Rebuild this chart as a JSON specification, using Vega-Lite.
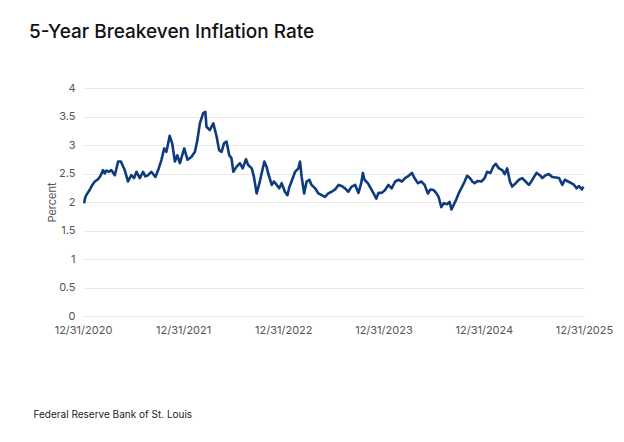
{
  "$schema": "https://vega.github.io/schema/vega-lite/v6.json",
  "width": 501,
  "height": 228,
  "autosize": {"type": "none"},
  "padding": {"left": 83, "top": 88, "right": 40, "bottom": 126},
  "background": "white",
  "config": {"view": {"stroke": null}, "font": "Inter"},
  "title": {
    "text": "5-Year Breakeven Inflation Rate",
    "anchor": "start",
    "frame": "group",
    "dx": -54,
    "offset": 25,
    "baseline": "alphabetic",
    "fontSize": 19,
    "fontWeight": 500,
    "color": "#111111",
    "font": "Inter"
  },
  "data": {
    "values": [
      {"date": "2021/01/04", "value": 1.98},
      {"date": "2021/01/08", "value": 2.08},
      {"date": "2021/01/12", "value": 2.12},
      {"date": "2021/01/24", "value": 2.21},
      {"date": "2021/02/03", "value": 2.3},
      {"date": "2021/02/12", "value": 2.36},
      {"date": "2021/02/24", "value": 2.4},
      {"date": "2021/03/05", "value": 2.46},
      {"date": "2021/03/14", "value": 2.56},
      {"date": "2021/03/20", "value": 2.5},
      {"date": "2021/03/26", "value": 2.55},
      {"date": "2021/04/05", "value": 2.53},
      {"date": "2021/04/13", "value": 2.56},
      {"date": "2021/04/26", "value": 2.47},
      {"date": "2021/05/08", "value": 2.71},
      {"date": "2021/05/18", "value": 2.71},
      {"date": "2021/06/01", "value": 2.56},
      {"date": "2021/06/13", "value": 2.36},
      {"date": "2021/06/25", "value": 2.47},
      {"date": "2021/07/05", "value": 2.42},
      {"date": "2021/07/14", "value": 2.53},
      {"date": "2021/07/26", "value": 2.42},
      {"date": "2021/08/07", "value": 2.53},
      {"date": "2021/08/15", "value": 2.45},
      {"date": "2021/08/25", "value": 2.47},
      {"date": "2021/09/06", "value": 2.53},
      {"date": "2021/09/21", "value": 2.44},
      {"date": "2021/10/01", "value": 2.56},
      {"date": "2021/10/13", "value": 2.74},
      {"date": "2021/10/23", "value": 2.94},
      {"date": "2021/10/31", "value": 2.88},
      {"date": "2021/11/12", "value": 3.16},
      {"date": "2021/11/21", "value": 3.03},
      {"date": "2021/12/01", "value": 2.71},
      {"date": "2021/12/10", "value": 2.82},
      {"date": "2021/12/19", "value": 2.68},
      {"date": "2022/01/04", "value": 2.94},
      {"date": "2022/01/16", "value": 2.74},
      {"date": "2022/01/30", "value": 2.79},
      {"date": "2022/02/12", "value": 2.88},
      {"date": "2022/02/21", "value": 3.09},
      {"date": "2022/03/02", "value": 3.38},
      {"date": "2022/03/14", "value": 3.56},
      {"date": "2022/03/22", "value": 3.58},
      {"date": "2022/03/26", "value": 3.32},
      {"date": "2022/04/01", "value": 3.29},
      {"date": "2022/04/07", "value": 3.26},
      {"date": "2022/04/20", "value": 3.38},
      {"date": "2022/05/02", "value": 3.15},
      {"date": "2022/05/11", "value": 2.91},
      {"date": "2022/05/20", "value": 2.88},
      {"date": "2022/05/29", "value": 3.03},
      {"date": "2022/06/07", "value": 3.06},
      {"date": "2022/06/17", "value": 2.82},
      {"date": "2022/06/25", "value": 2.77},
      {"date": "2022/07/02", "value": 2.53},
      {"date": "2022/07/14", "value": 2.62},
      {"date": "2022/07/26", "value": 2.68},
      {"date": "2022/08/05", "value": 2.59},
      {"date": "2022/08/17", "value": 2.75},
      {"date": "2022/08/25", "value": 2.65},
      {"date": "2022/09/07", "value": 2.59},
      {"date": "2022/09/15", "value": 2.44},
      {"date": "2022/09/25", "value": 2.15},
      {"date": "2022/10/05", "value": 2.33},
      {"date": "2022/10/13", "value": 2.5},
      {"date": "2022/10/23", "value": 2.71},
      {"date": "2022/10/31", "value": 2.62},
      {"date": "2022/11/06", "value": 2.5},
      {"date": "2022/11/19", "value": 2.3},
      {"date": "2022/11/27", "value": 2.36},
      {"date": "2022/12/07", "value": 2.3},
      {"date": "2022/12/16", "value": 2.24},
      {"date": "2022/12/25", "value": 2.33},
      {"date": "2023/01/06", "value": 2.18},
      {"date": "2023/01/15", "value": 2.12},
      {"date": "2023/01/22", "value": 2.26},
      {"date": "2023/01/30", "value": 2.36},
      {"date": "2023/02/12", "value": 2.53},
      {"date": "2023/02/24", "value": 2.59},
      {"date": "2023/03/02", "value": 2.71},
      {"date": "2023/03/08", "value": 2.44},
      {"date": "2023/03/17", "value": 2.15},
      {"date": "2023/03/26", "value": 2.36},
      {"date": "2023/04/05", "value": 2.39},
      {"date": "2023/04/13", "value": 2.3},
      {"date": "2023/04/26", "value": 2.24},
      {"date": "2023/05/08", "value": 2.15},
      {"date": "2023/05/20", "value": 2.12},
      {"date": "2023/06/01", "value": 2.09},
      {"date": "2023/06/13", "value": 2.15},
      {"date": "2023/06/25", "value": 2.18},
      {"date": "2023/07/08", "value": 2.22},
      {"date": "2023/07/20", "value": 2.3},
      {"date": "2023/08/01", "value": 2.28},
      {"date": "2023/08/13", "value": 2.24},
      {"date": "2023/08/25", "value": 2.18},
      {"date": "2023/09/06", "value": 2.27},
      {"date": "2023/09/19", "value": 2.3},
      {"date": "2023/10/01", "value": 2.16},
      {"date": "2023/10/11", "value": 2.33},
      {"date": "2023/10/17", "value": 2.51},
      {"date": "2023/10/23", "value": 2.39},
      {"date": "2023/11/04", "value": 2.33},
      {"date": "2023/11/17", "value": 2.22},
      {"date": "2023/11/25", "value": 2.15},
      {"date": "2023/12/05", "value": 2.06},
      {"date": "2023/12/13", "value": 2.16},
      {"date": "2023/12/25", "value": 2.16},
      {"date": "2024/01/06", "value": 2.21},
      {"date": "2024/01/18", "value": 2.3},
      {"date": "2024/01/30", "value": 2.24},
      {"date": "2024/02/12", "value": 2.36},
      {"date": "2024/02/24", "value": 2.39},
      {"date": "2024/03/07", "value": 2.36},
      {"date": "2024/03/19", "value": 2.42},
      {"date": "2024/04/01", "value": 2.46},
      {"date": "2024/04/13", "value": 2.51},
      {"date": "2024/04/22", "value": 2.42},
      {"date": "2024/05/05", "value": 2.33},
      {"date": "2024/05/17", "value": 2.36},
      {"date": "2024/05/29", "value": 2.3},
      {"date": "2024/06/10", "value": 2.15},
      {"date": "2024/06/19", "value": 2.22},
      {"date": "2024/07/01", "value": 2.21},
      {"date": "2024/07/10", "value": 2.16},
      {"date": "2024/07/19", "value": 2.09},
      {"date": "2024/07/29", "value": 1.91},
      {"date": "2024/08/07", "value": 1.98},
      {"date": "2024/08/19", "value": 1.96},
      {"date": "2024/08/28", "value": 2.0},
      {"date": "2024/09/04", "value": 1.87},
      {"date": "2024/09/12", "value": 1.95},
      {"date": "2024/09/21", "value": 2.04},
      {"date": "2024/10/01", "value": 2.16},
      {"date": "2024/10/13", "value": 2.27},
      {"date": "2024/10/22", "value": 2.36},
      {"date": "2024/10/31", "value": 2.46},
      {"date": "2024/11/10", "value": 2.42},
      {"date": "2024/11/19", "value": 2.36},
      {"date": "2024/11/27", "value": 2.33},
      {"date": "2024/12/09", "value": 2.37},
      {"date": "2024/12/22", "value": 2.36},
      {"date": "2025/01/03", "value": 2.42},
      {"date": "2025/01/12", "value": 2.53},
      {"date": "2025/01/24", "value": 2.51},
      {"date": "2025/02/03", "value": 2.62},
      {"date": "2025/02/12", "value": 2.67},
      {"date": "2025/02/24", "value": 2.59},
      {"date": "2025/03/08", "value": 2.56},
      {"date": "2025/03/17", "value": 2.49},
      {"date": "2025/03/26", "value": 2.59},
      {"date": "2025/04/05", "value": 2.36},
      {"date": "2025/04/13", "value": 2.27},
      {"date": "2025/04/26", "value": 2.33},
      {"date": "2025/05/08", "value": 2.39},
      {"date": "2025/05/20", "value": 2.42},
      {"date": "2025/06/01", "value": 2.36},
      {"date": "2025/06/13", "value": 2.3},
      {"date": "2025/06/22", "value": 2.36},
      {"date": "2025/07/02", "value": 2.44},
      {"date": "2025/07/11", "value": 2.51},
      {"date": "2025/07/23", "value": 2.47},
      {"date": "2025/08/01", "value": 2.42},
      {"date": "2025/08/13", "value": 2.47},
      {"date": "2025/08/25", "value": 2.49},
      {"date": "2025/09/06", "value": 2.44},
      {"date": "2025/09/19", "value": 2.43},
      {"date": "2025/10/01", "value": 2.42},
      {"date": "2025/10/13", "value": 2.3},
      {"date": "2025/10/22", "value": 2.39},
      {"date": "2025/11/03", "value": 2.36},
      {"date": "2025/11/15", "value": 2.33},
      {"date": "2025/11/25", "value": 2.3},
      {"date": "2025/12/04", "value": 2.24},
      {"date": "2025/12/13", "value": 2.28},
      {"date": "2025/12/23", "value": 2.22},
      {"date": "2025/12/29", "value": 2.27}
    ]
  },
  "mark": {"type": "line", "color": "#0d3b7e", "strokeWidth": 2.6, "strokeJoin": "round"},
  "encoding": {
    "x": {
      "field": "date",
      "type": "temporal",
      "scale": {"domain": [{"year": 2020, "month": 12, "date": 31}, {"year": 2025, "month": 12, "date": 31}]},
      "axis": {
        "values": [
          {"year": 2020, "month": 12, "date": 31},
          {"year": 2021, "month": 12, "date": 31},
          {"year": 2022, "month": 12, "date": 31},
          {"year": 2023, "month": 12, "date": 31},
          {"year": 2024, "month": 12, "date": 31},
          {"year": 2025, "month": 12, "date": 31}
        ],
        "format": "%m/%d/%Y",
        "grid": false,
        "domain": false,
        "ticks": false,
        "labelFlush": false,
        "labelOverlap": false,
        "labelPadding": 8,
        "labelFontSize": 11,
        "labelColor": "#555555",
        "labelFont": "Inter",
        "labelBaseline": "top",
        "title": "Federal Reserve Bank of St. Louis",
        "titleAnchor": "start",
        "titleAlign": "left",
        "titleX": -50,
        "titleY": 101,
        "titleBaseline": "alphabetic",
        "titleFontSize": 10,
        "titleFontWeight": 400,
        "titleColor": "#222222",
        "titleFont": "Inter"
      }
    },
    "y": {
      "field": "value",
      "type": "quantitative",
      "scale": {"domain": [0, 4]},
      "axis": {
        "values": [0, 0.5, 1, 1.5, 2, 2.5, 3, 3.5, 4],
        "format": "~g",
        "grid": true,
        "gridColor": "#e8e8e8",
        "gridWidth": 1,
        "domain": false,
        "ticks": false,
        "labelPadding": 8,
        "labelFontSize": 11,
        "labelColor": "#555555",
        "labelFont": "Inter",
        "title": "Percent",
        "titleFontSize": 11,
        "titleFontWeight": 400,
        "titleColor": "#555555",
        "titleFont": "Inter",
        "titlePadding": 1
      }
    }
  }
}
